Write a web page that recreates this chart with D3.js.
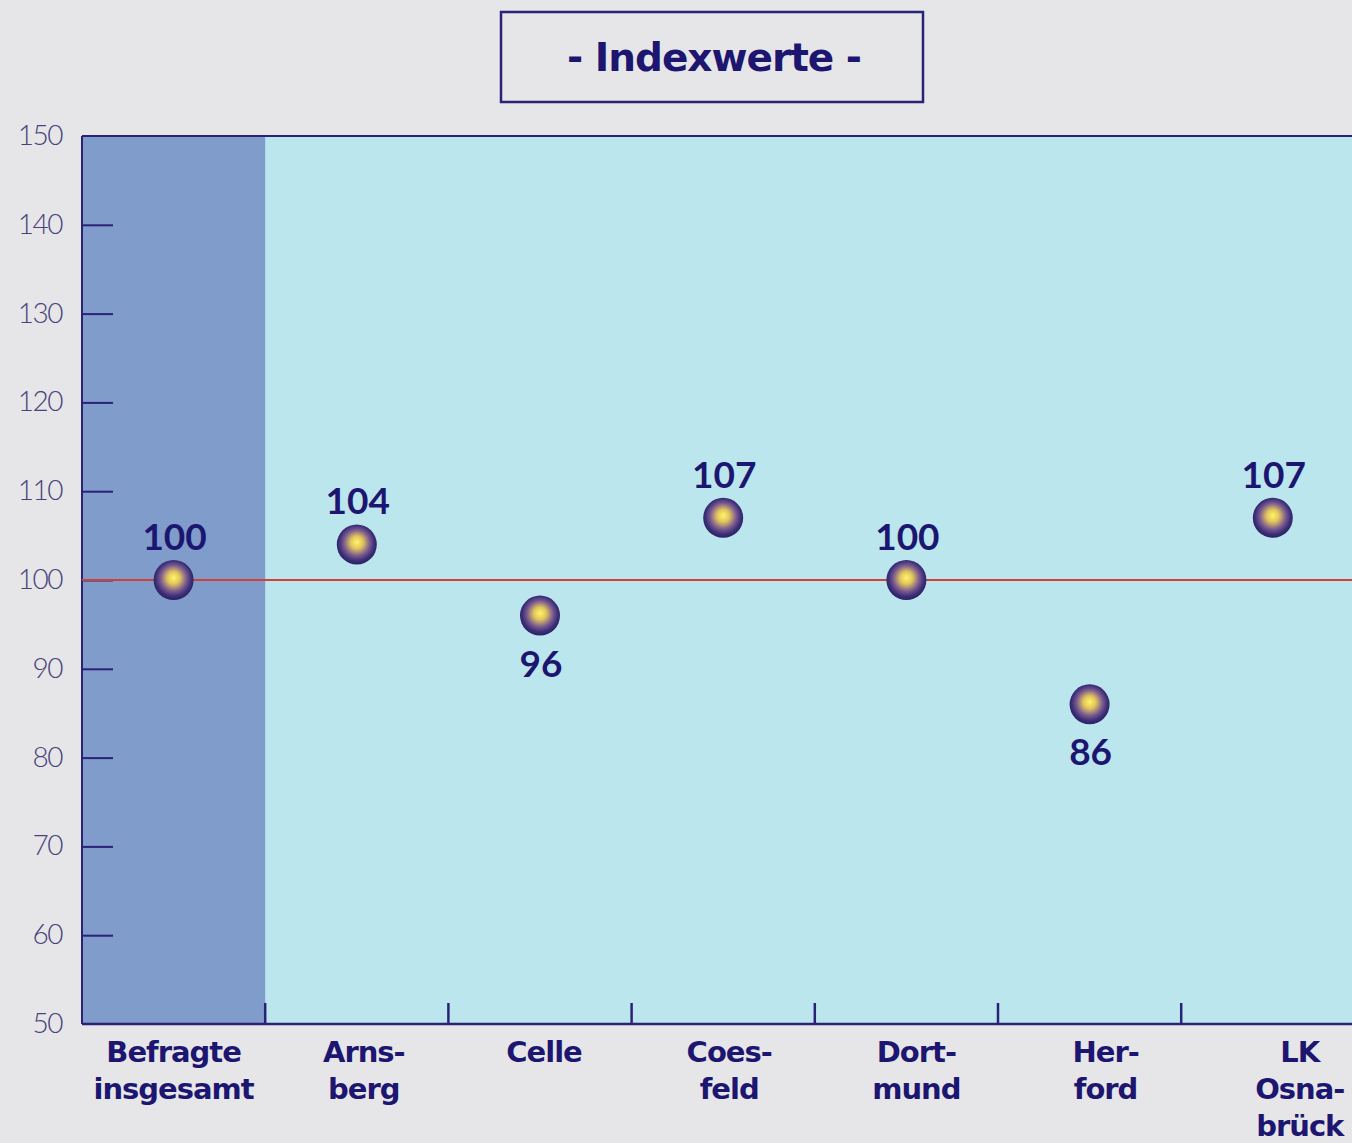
<!DOCTYPE html>
<html><head><meta charset="utf-8">
<script src="https://cdn.jsdelivr.net/npm/d3@7"></script>
<style>
html,body{margin:0;padding:0;background:#e6e6e8;}
svg{display:block;}
</style></head>
<body>
<script>
const categories = [["Befragte","insgesamt"],["Arns-","berg"],["Celle"],["Coes-","feld"],["Dort-","mund"],["Her-","ford"],["LK","Osna-","brück"]];
const values = [100,104,96,107,100,86,107];
const yTicks = [50,60,70,80,90,100,110,120,130,140,150];
const title = "- Indexwerte -";
const reference = 100;

(function(){
const W = 1352, H = 1143;
const svg = d3.select("body").append("svg").attr("width",W).attr("height",H);
svg.append("rect").attr("width",W).attr("height",H).attr("fill","#e6e6e8");

const pLeft = 82, pTop = 136, pBottom = 1024, colW = 183.2;
const x = d3.scaleBand().domain(d3.range(categories.length)).range([pLeft, pLeft + colW*categories.length]).padding(0);
const y = d3.scaleLinear().domain([50,150]).range([pBottom, pTop]);
const pRight = pLeft + colW*categories.length;

const navy = "#2a2276";
const textC = "#1c1670";
const wideFont = "'DejaVu Sans', Verdana, sans-serif";

const defs = svg.append("defs");
const g = defs.append("radialGradient").attr("id","ball").attr("cx","50%").attr("cy","47%").attr("r","52%").attr("fx","50%").attr("fy","44%");
g.append("stop").attr("offset","0%").attr("stop-color","#fff56a");
g.append("stop").attr("offset","30%").attr("stop-color","#e2c45c");
g.append("stop").attr("offset","62%").attr("stop-color","#7b5c90");
g.append("stop").attr("offset","85%").attr("stop-color","#3e2f78");
g.append("stop").attr("offset","100%").attr("stop-color","#2a2266");

svg.append("rect").attr("x",pLeft).attr("y",pTop).attr("width",pRight-pLeft).attr("height",pBottom-pTop).attr("fill","#bce6ee");
svg.append("rect").attr("x",x(0)).attr("y",pTop).attr("width",x.bandwidth()).attr("height",pBottom-pTop).attr("fill","#7f9cca");

svg.append("line").attr("x1",pLeft).attr("x2",pRight).attr("y1",pTop).attr("y2",pTop).attr("stroke",navy).attr("stroke-width",2);
svg.append("line").attr("x1",pLeft).attr("x2",pLeft).attr("y1",pTop).attr("y2",pBottom).attr("stroke",navy).attr("stroke-width",2);

const yAxis = d3.axisRight(y).tickValues(yTicks).tickSize(31).tickFormat("");
const ya = svg.append("g").attr("transform",`translate(${pLeft},0)`).call(yAxis);
ya.select(".domain").remove();
ya.selectAll(".tick line").attr("stroke",navy).attr("stroke-width",2);
ya.selectAll(".tick").filter(d=>d===150||d===50).remove();
svg.append("g").selectAll("text").data(yTicks).join("text")
  .attr("x",62).attr("y",d=>y(d)+9).attr("text-anchor","end")
  .attr("font-family","Lato, 'DejaVu Sans', sans-serif").attr("font-size",28).attr("font-weight",300)
  .attr("fill","#46427a").attr("letter-spacing","-1.5").text(d=>d);

const xa = svg.append("g").attr("transform",`translate(0,${pBottom})`)
  .call(d3.axisBottom(x).tickSize(0).tickFormat(""));
xa.select(".domain").attr("stroke",navy).attr("stroke-width",2.5).attr("d",`M${pLeft},0H${pRight}`);
svg.append("g").selectAll("line").data(d3.range(1,categories.length)).join("line")
  .attr("x1",d=>x(d)).attr("x2",d=>x(d)).attr("y1",pBottom-21).attr("y2",pBottom)
  .attr("stroke",navy).attr("stroke-width",2.5);

const xOff = [0,7,4,6,10,16,27];
const lab = svg.append("g").selectAll("text").data(categories).join("text")
  .attr("x",(d,i)=>x(i)+x.bandwidth()/2 + xOff[i])
  .attr("text-anchor","middle")
  .attr("font-family",wideFont).attr("font-weight",700).attr("font-size",29)
  .attr("letter-spacing","-1")
  .attr("fill",textC);
lab.each(function(d){
  const xx = d3.select(this).attr("x");
  d3.select(this).selectAll("tspan").data(d).join("tspan")
    .attr("x",xx).attr("y",(t,j)=>1062+j*37).text(t=>t);
});

svg.append("line").attr("x1",pLeft).attr("x2",pRight).attr("y1",y(reference)).attr("y2",y(reference))
  .attr("stroke","#d2403a").attr("stroke-width",2);

svg.append("g").selectAll("circle").data(values).join("circle")
  .attr("cx",(d,i)=>x(i)+x.bandwidth()/2).attr("cy",d=>y(d)).attr("r",20)
  .attr("fill","url(#ball)");

svg.append("g").selectAll("text").data(values).join("text")
  .attr("x",(d,i)=>x(i)+x.bandwidth()/2 + 1)
  .attr("y",d=>d>=reference ? y(d)-30 : y(d)+61)
  .attr("text-anchor","middle")
  .attr("font-family","Lato, 'DejaVu Sans', sans-serif").attr("font-weight",700).attr("font-size",37)
  .attr("fill",textC).text(d=>d);

svg.append("rect").attr("x",501).attr("y",12).attr("width",422).attr("height",90)
  .attr("fill","none").attr("stroke",navy).attr("stroke-width",2.5);
svg.append("text").attr("x",714).attr("y",71).attr("text-anchor","middle")
  .attr("font-family",wideFont).attr("font-weight",700).attr("font-size",39)
  .attr("letter-spacing","-1")
  .attr("fill",textC).text(title);
})();
</script>
</body></html>
